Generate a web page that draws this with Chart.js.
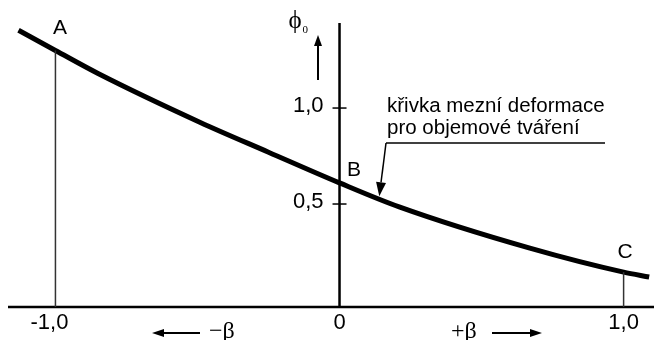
<!DOCTYPE html>
<html>
<head>
<meta charset="utf-8">
<script src="https://cdn.jsdelivr.net/npm/chart.js@4"></script>
<style>
  html, body { margin: 0; padding: 0; background: #fff; }
  #wrap { width: 654px; height: 340px; position: relative; }
</style>
</head>
<body>
<div id="wrap"><canvas id="chart"></canvas></div>
<script>
// limit strain curve phi0 over beta
const betaValues = [-1.13, -1.0, -0.85, -0.49, -0.25, 0, 0.21, 0.67, 1.0, 1.09];
const phiValues  = [1.405, 1.30, 1.18, 0.925, 0.77, 0.61, 0.485, 0.27, 0.145, 0.12];
const xTicks = [-1, 0, 1];
const xTickLabels = ['-1,0', '0', '1,0'];
const yTicks = [0.5, 1.0];
const yTickLabels = ['0,5', '1,0'];
const pointNames = ['A', 'B', 'C'];
const pointBetas = [-1, 0, 1];
const curveText = ['křivka mezní deformace', 'pro objemové tváření'];

const X_MIN = -1.167, X_MAX = 1.107;
const Y_MIN = -0.0365, Y_MAX = 1.443;

const SANS = '"Liberation Sans", Arial, sans-serif';
const SERIF = '"Liberation Serif", "DejaVu Serif", serif';

function phiAt(b) {
  return phiValues[betaValues.indexOf(b)];
}

function arrow(ctx, x1, y1, x2, y2, len, half, lw) {
  const a = Math.atan2(y2 - y1, x2 - x1);
  const bx = x2 - len * Math.cos(a), by = y2 - len * Math.sin(a);
  ctx.lineWidth = lw;
  ctx.beginPath();
  ctx.moveTo(x1, y1);
  ctx.lineTo(bx, by);
  ctx.stroke();
  ctx.beginPath();
  ctx.moveTo(x2, y2);
  ctx.lineTo(bx + half * Math.sin(a), by - half * Math.cos(a));
  ctx.lineTo(bx - half * Math.sin(a), by + half * Math.cos(a));
  ctx.closePath();
  ctx.fill();
}

// axes, ticks and all the lettering
const decor = {
  id: 'decor',
  beforeDatasetsDraw(chart) {
    const { ctx, chartArea: ca, scales: { x, y } } = chart;
    const x0 = x.getPixelForValue(0);
    ctx.save();
    ctx.strokeStyle = '#000';
    ctx.lineWidth = 2.5;
    ctx.beginPath();
    ctx.moveTo(ca.left, ca.bottom);
    ctx.lineTo(ca.right, ca.bottom);
    ctx.moveTo(x0, ca.top);
    ctx.lineTo(x0, ca.bottom);
    ctx.stroke();

    ctx.lineWidth = 1.5;
    yTicks.forEach(v => {
      const py = y.getPixelForValue(v);
      ctx.beginPath();
      ctx.moveTo(x0 - 7, py);
      ctx.lineTo(x0 + 7, py);
      ctx.stroke();
    });
    ctx.restore();
  },
  afterDraw(chart) {
    const { ctx, chartArea: ca, scales: { x, y } } = chart;
    const x0 = x.getPixelForValue(0);
    ctx.save();
    ctx.fillStyle = '#000';
    ctx.strokeStyle = '#000';

    // tick labels
    ctx.font = '22px ' + SANS;
    ctx.textBaseline = 'middle';
    ctx.textAlign = 'center';
    xTicks.forEach((v, i) => {
      const off = v < 0 ? -6 : 0;
      ctx.fillText(xTickLabels[i], x.getPixelForValue(v) + off, ca.bottom + 16);
    });
    ctx.textAlign = 'right';
    yTicks.forEach((v, i) => {
      ctx.fillText(yTickLabels[i], x0 - 16, y.getPixelForValue(v) - 2);
    });

    // point names
    const nameOff = [[4.5, -22.5], [14.5, -12.5], [1.5, -19.5]];
    ctx.textAlign = 'center';
    ctx.font = '21px ' + SANS;
    pointBetas.forEach((b, i) => {
      const px = x.getPixelForValue(b), py = y.getPixelForValue(phiAt(b));
      ctx.fillText(pointNames[i], px + nameOff[i][0], py + nameOff[i][1]);
    });

    // phi0 with upward arrow
    ctx.textAlign = 'left';
    ctx.textBaseline = 'alphabetic';
    ctx.font = '25px ' + SERIF;
    ctx.fillText('ϕ', x0 - 51, ca.top + 5);
    ctx.font = '11px ' + SERIF;
    ctx.fillText('0', x0 - 37, ca.top + 10);
    arrow(ctx, x0 - 21.5, ca.top + 57, x0 - 21.5, ca.top + 12, 11, 4, 2);

    // curve annotation with leader
    ctx.font = '20.5px ' + SANS;
    ctx.fillText(curveText[0], 387, 111.5);
    ctx.fillText(curveText[1], 387, 134);
    ctx.lineWidth = 1.5;
    ctx.beginPath();
    ctx.moveTo(386, 143);
    ctx.lineTo(605, 143);
    ctx.stroke();
    const tx = x.getPixelForValue(0.14), ty = y.getPixelForValue(0.54);
    arrow(ctx, 386, 143, tx, ty, 14, 5, 1.5);

    // beta direction arrows
    const by = ca.bottom + 26;
    ctx.font = '24px ' + SERIF;
    ctx.textBaseline = 'middle';
    ctx.textAlign = 'left';
    arrow(ctx, 200, by, 152, by, 12, 4, 2);
    ctx.fillText('−β', 209, by - 1);
    ctx.fillText('+β', 451, by - 1);
    arrow(ctx, 492, by, 542, by, 12, 4, 2);
    ctx.restore();
  }
};

const line = (data, width, color) => ({
  data,
  borderColor: color,
  borderWidth: width,
  pointRadius: 0,
  showLine: true,
  fill: false
});

const curve = line(betaValues.map((b, i) => ({ x: b, y: phiValues[i] })), 5, '#000');
curve.cubicInterpolationMode = 'monotone';
curve.borderCapStyle = 'butt';

const drops = [-1, 1].map(b =>
  line([{ x: b, y: Y_MIN }, { x: b, y: phiAt(b) }], 1.5, '#333'));

new Chart(document.getElementById('chart'), {
  type: 'scatter',
  data: { datasets: [...drops, curve] },
  options: {
    responsive: true,
    maintainAspectRatio: false,
    animation: false,
    layout: { padding: { left: 8, right: 0, top: 23, bottom: 33 } },
    plugins: { legend: { display: false }, tooltip: { enabled: false } },
    scales: {
      x: { type: 'linear', min: X_MIN, max: X_MAX, display: false },
      y: { type: 'linear', min: Y_MIN, max: Y_MAX, display: false }
    }
  },
  plugins: [decor]
});
</script>
</body>
</html>
